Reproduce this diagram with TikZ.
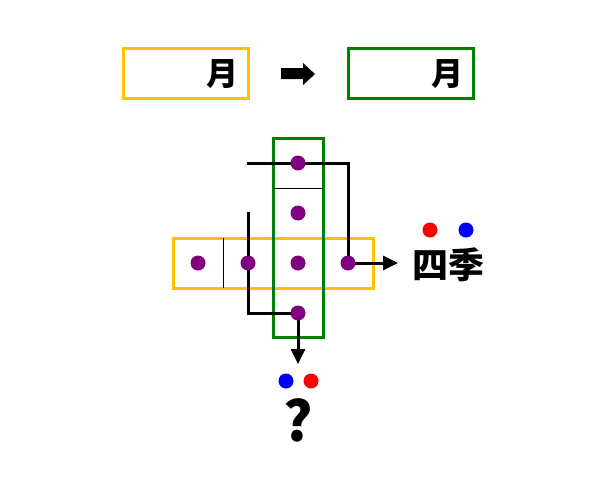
\documentclass[tikz,border=0pt]{standalone}
\usepackage{fontspec}
\newfontfamily\cjk{Noto Sans CJK SC}
\usetikzlibrary{arrows.meta}
\definecolor{boxorange}{HTML}{FFC000}
\definecolor{boxgreen}{HTML}{008000}
\definecolor{dotpurple}{HTML}{800080}
\pgfdeclarelayer{frames}
\pgfdeclarelayer{wires}
\pgfsetlayers{frames,wires,main}

\begin{document}
\begin{tikzpicture}[x=1pt, y=-1pt,
  frame/.style={line width=3pt},
  thinline/.style={line width=1pt},
  wire/.style={line width=3pt},
  dot/.style={circle, fill=dotpurple, inner sep=0pt, minimum size=15pt},
  kanji/.style={font=\cjk\bfseries\fontsize{32}{32}\selectfont, inner sep=0pt}]
  \useasboundingbox (0,0) rectangle (598,488);

  % Top boxes
  \draw[frame, boxorange] (123,48) rectangle (248,98);
  \draw[frame, boxgreen] (348,48) rectangle (473,98);
  \node[kanji] (oldmonth) at (222,74) {月};
  \node[kanji] (newmonth) at (447,74) {月};
  \fill (281,68) -- (303,68) -- (303,63) -- (315,74) -- (303,85) -- (303,79) -- (281,79) -- cycle;

  % Cross of cells
  \begin{pgfonlayer}{frames}
    \draw[frame, boxorange] (173,238) rectangle (373,288);
    \draw[frame, boxgreen] (273,138) rectangle (323,337);
    \draw[thinline] (273,188) -- (323,188);
    \draw[thinline] (223,238) -- (223,288);
  \end{pgfonlayer}

  % Free ends
  \coordinate (topend) at (247,163);
  \coordinate (leftend) at (248,212);
  \coordinate (righttip) at (398,263);
  \coordinate (downtip) at (298,364);

  % Dots
  \node[dot] (dtop) at (298,163) {};
  \node[dot] (dup) at (298,213) {};
  \node[dot] (dcentre) at (298,263) {};
  \node[dot] (dbottom) at (298,313) {};
  \node[dot] (dfar) at (198,263) {};
  \node[dot] (dleft) at (248,263) {};
  \node[dot] (dright) at (348,263) {};

  % Wires
  \begin{pgfonlayer}{wires}
    \draw[wire] (topend) -- (dtop.center) -| (dright.center);
    \draw[wire] (leftend) -- (dleft.center) |- (dbottom.center);
    \draw[wire, -{Triangle[length=15pt,width=14pt]}] (dright.center) -- (righttip);
    \draw[wire, -{Triangle[length=15pt,width=14pt]}] (dbottom.center) -- (downtip);
  \end{pgfonlayer}

  % Results
  \node[dot, fill=red] (redone) at (430,230) {};
  \node[dot, fill=blue] (blueone) at (466,230) {};
  \node[kanji, font=\cjk\bfseries\fontsize{36}{36}\selectfont] (seasons) at (448,265) {四季};
  \node[dot, fill=blue] (bluetwo) at (286,381) {};
  \node[dot, fill=red] (redtwo) at (311,381) {};
  \node[kanji, font=\cjk\bfseries\fontsize{55}{55}\selectfont] (quest) at (298,420) {?};
\end{tikzpicture}
\end{document}
